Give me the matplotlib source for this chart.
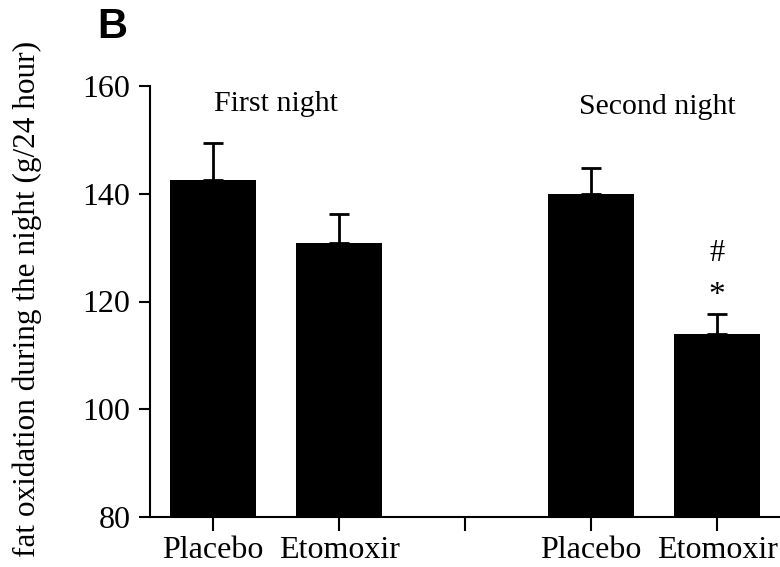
import numpy as np
import matplotlib.pyplot as plt

# fat oxidation (g/24 hour), mean and upper SEM
groups = ["First night", "Second night"]
tick_labels = ["Placebo", "Etomoxir", "", "Placebo", "Etomoxir"]
positions = [0, 1, 3, 4]
means = [142.5, 130.8, 139.9, 113.9]
errors = [6.9, 5.4, 4.8, 3.7]

plt.rcParams["font.family"] = ["Liberation Serif", "DejaVu Serif"]

fig = plt.figure(figsize=(7.8, 5.67), dpi=100)
ax = fig.add_axes([150 / 780, 1 - 517 / 567, 1 - 150 / 780, (517 - 86) / 567])

ax.bar(positions, np.array(means) - 80, bottom=80, width=0.69, color="black", zorder=2)
ax.errorbar(positions, means, yerr=[np.zeros(len(errors)), errors], fmt="none",
            ecolor="black", elinewidth=2, capsize=7, capthick=2, zorder=1)

ax.set_ylim(80, 160)
ax.set_xlim(-0.5, 4.5)
ax.set_yticks([80, 100, 120, 140, 160])
ax.set_xticks(range(5))
ax.set_xticklabels(tick_labels)
ax.tick_params(axis="both", labelsize=23, width=1.5, length=8, direction="out")
ax.tick_params(axis="x", length=10, pad=4)
ax.tick_params(axis="y", pad=6)

for side in ["top", "right"]:
    ax.spines[side].set_visible(False)
for side in ["left", "bottom"]:
    ax.spines[side].set_linewidth(1.5)

ax.set_ylabel("fat oxidation during the night (g/24 hour)", fontsize=22.5)
ax.yaxis.set_label_coords(-0.172, 0.505)

ax.text(0.5, 156.6, groups[0], ha="center", va="center", fontsize=21.5)
ax.text(3.53, 156.1, groups[1], ha="center", va="center", fontsize=21.5)
ax.text(4, 128.9, "#", ha="center", va="center", fontsize=22)
ax.text(4, 121.0, "*", ha="center", va="center", fontsize=24)

fig.text(97 / 780, 1 - 27 / 567, "B", fontsize=30, fontweight="bold",
         family="Liberation Sans", ha="left", va="center")

fig.savefig("out.png", dpi=100)
